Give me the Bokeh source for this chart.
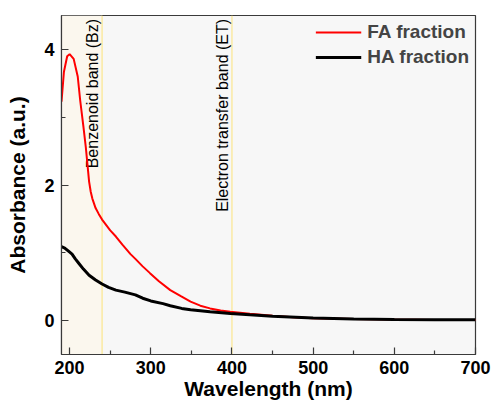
import math
from bokeh.plotting import figure
from bokeh.models import ColumnDataSource, BoxAnnotation, Span, Legend, LegendItem, FixedTicker
from bokeh.core.properties import value
from bokeh.embed import file_html
from bokeh.resources import INLINE

# ---- data ----
fa_wl = [190, 193, 197, 200, 205, 210, 213, 217, 220, 222, 224, 226, 228, 232, 236, 240,
         250, 257, 265, 275, 281, 290, 299, 310, 324, 337, 349, 361, 373, 386, 398, 422,
         450, 475, 500, 550, 600, 650, 700]
fa_abs = [3.23, 3.67, 3.90, 3.93, 3.86, 3.60, 3.25, 2.86, 2.55, 2.30, 2.05, 1.90, 1.80, 1.66, 1.57, 1.49,
          1.33, 1.24, 1.12, 0.98, 0.91, 0.80, 0.70, 0.58, 0.45, 0.36, 0.28, 0.22, 0.18, 0.15, 0.13, 0.10,
          0.07, 0.05, 0.035, 0.022, 0.015, 0.010, 0.008]

ha_wl = [190, 194, 199, 203, 207, 211, 217, 224, 232, 240, 248, 257, 268, 281, 290, 300,
         315, 324, 338, 349, 373, 398, 422, 450, 500, 550, 600, 650, 700]
ha_abs = [1.09, 1.07, 1.02, 0.98, 0.91, 0.85, 0.76, 0.67, 0.60, 0.54, 0.49, 0.45, 0.42, 0.38, 0.33, 0.29,
          0.25, 0.22, 0.18, 0.16, 0.13, 0.105, 0.085, 0.065, 0.04, 0.025, 0.018, 0.014, 0.012]

band_edges = [240, 400]
band_labels = ["Benzenoid band (Bz)", "Electron transfer band (ET)"]
x_ticks = [200, 300, 400, 500, 600, 700]
y_ticks = [0, 2, 4]
series_names = ["FA fraction", "HA fraction"]

FONT = "Liberation Sans"

p = figure(width=491, height=407, x_range=(190, 700), y_range=(-0.5, 4.5),
           output_backend="svg", toolbar_location=None,
           min_border_left=61, min_border_right=16, min_border_top=15, min_border_bottom=53)

p.background_fill_color = "#f7f7f7"
p.border_fill_color = "white"
p.outline_line_color = "#3a3a3a"
p.outline_line_width = 1.2
p.xgrid.visible = False
p.ygrid.visible = False

# shaded benzenoid region and band lines
p.add_layout(BoxAnnotation(left=190, right=band_edges[0], fill_color="#fbf7ee", fill_alpha=1.0,
                           line_alpha=0, level="underlay"))
for b in band_edges:
    p.add_layout(Span(location=b, dimension="height", line_color="#fbe68f", line_width=1.2,
                      level="underlay"))

src_txt = ColumnDataSource(dict(x=band_edges, y=[4.45, 4.45], t=band_labels))
p.text(x="x", y="y", text="t", source=src_txt, angle=math.pi / 2, text_align="right",
       text_baseline="bottom", x_offset=-1, text_font=value(FONT), text_font_size="16px",
       text_color="black")

r_fa = p.line(fa_wl, fa_abs, line_color="#ff0000", line_width=2)
r_ha = p.line(ha_wl, ha_abs, line_color="black", line_width=3)

legend = Legend(items=[LegendItem(label=series_names[0], renderers=[r_fa]),
                       LegendItem(label=series_names[1], renderers=[r_ha])],
                location="top_right")
legend.background_fill_alpha = 0
legend.border_line_alpha = 0
legend.label_text_font = FONT
legend.label_text_font_style = "bold"
legend.label_text_font_size = "19px"
legend.glyph_width = 46
legend.glyph_height = 20
legend.label_height = 20
legend.label_standoff = 6
legend.spacing = 3
legend.padding = 0
legend.margin = 6
p.add_layout(legend)

for ax in (p.xaxis, p.yaxis):
    ax.axis_line_color = "#3a3a3a"
    ax.axis_line_width = 1.2
    ax.major_tick_in = 7
    ax.major_tick_out = 0
    ax.minor_tick_in = 4
    ax.minor_tick_out = 0
    ax.major_tick_line_color = "#3a3a3a"
    ax.minor_tick_line_color = "#3a3a3a"
    ax.major_tick_line_width = 1.2
    ax.minor_tick_line_width = 1.2
    ax.major_label_text_font = FONT
    ax.major_label_text_font_style = "bold"
    ax.major_label_text_font_size = "18px"
    ax.major_label_text_color = "black"
    ax.axis_label_text_font = FONT
    ax.axis_label_text_font_style = "bold"
    ax.axis_label_text_font_size = "21px"
    ax.axis_label_text_color = "black"

p.xaxis.ticker = FixedTicker(ticks=x_ticks, minor_ticks=[250, 350, 450, 550, 650])
p.yaxis.ticker = FixedTicker(ticks=y_ticks, minor_ticks=[1, 3])
p.xaxis.axis_label = "Wavelength (nm)"
p.yaxis.axis_label = "Absorbance (a.u.)"
p.xaxis.major_label_standoff = 6
p.xaxis.axis_label_standoff = 0
p.yaxis.major_label_standoff = 7
p.yaxis.axis_label_standoff = 12

open("out.html", "w").write(file_html(p, INLINE))
